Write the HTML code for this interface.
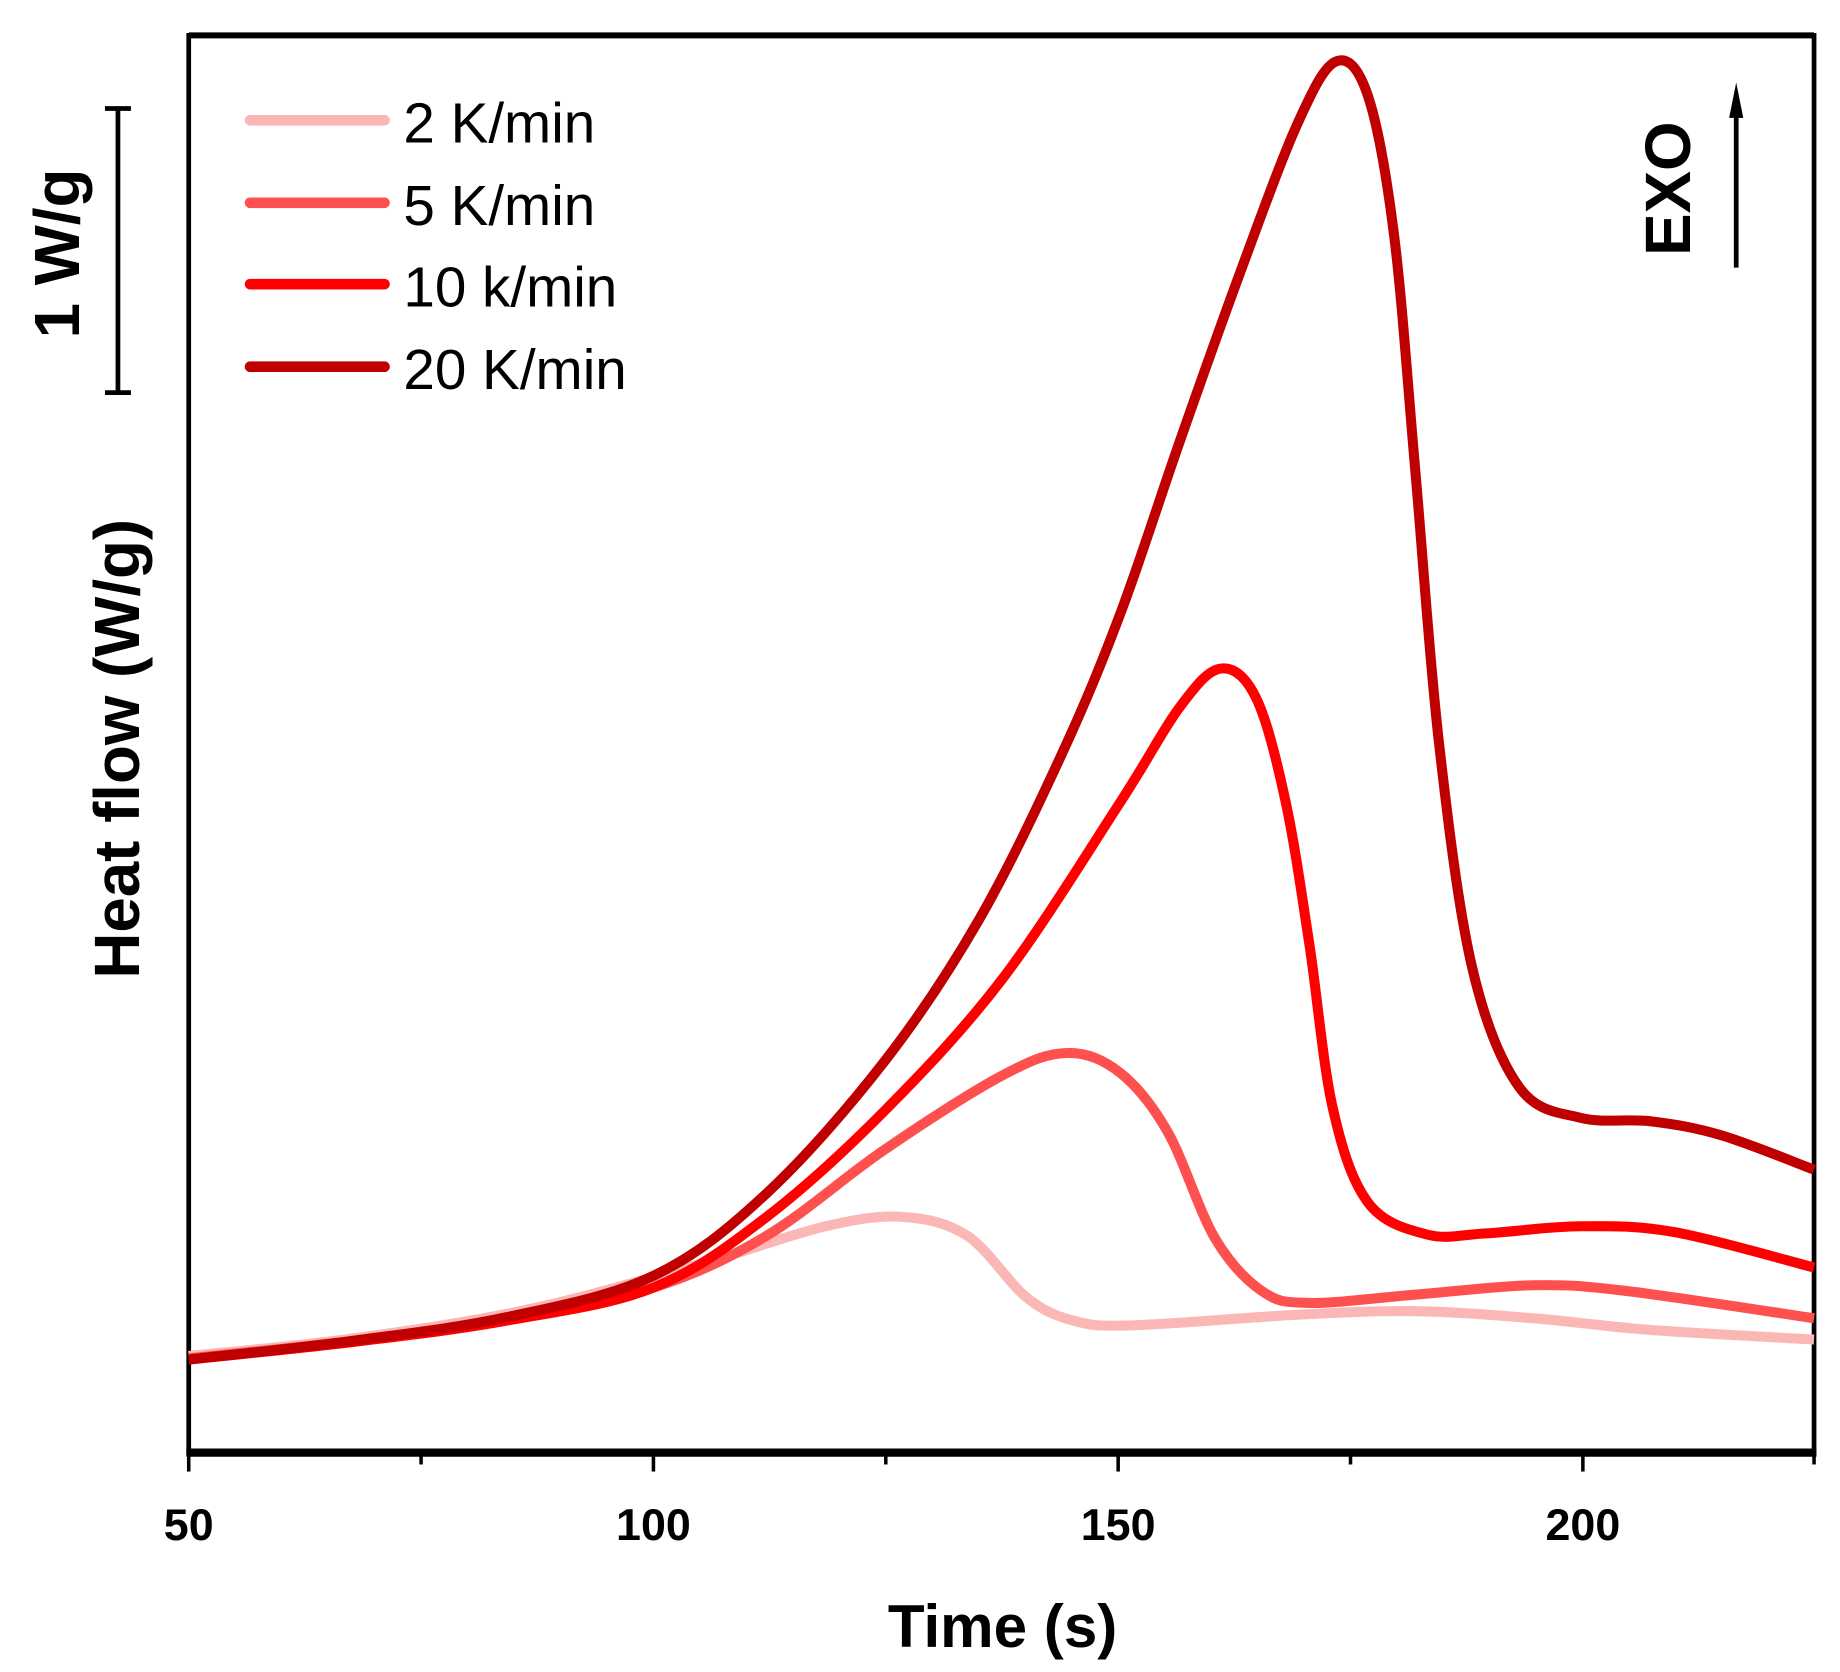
<!DOCTYPE html>
<html><head><meta charset="utf-8"><style>
html,body{margin:0;padding:0;background:#fff}
svg{display:block}
text{font-family:"Liberation Sans",Arial,sans-serif}
</style></head><body>
<svg id="s" width="1840" height="1672" viewBox="0 0 1560 1418" preserveAspectRatio="none" xmlns="http://www.w3.org/2000/svg">
<g stroke="#000" fill="none">
<line x1="160" y1="30" x2="1538" y2="30" stroke-width="5"/>
<line x1="160" y1="28" x2="160" y2="1234" stroke-width="4"/>
<line x1="1538" y1="28" x2="1538" y2="1234" stroke-width="4"/>
<line x1="158" y1="1232" x2="1540" y2="1232" stroke-width="7"/>
<g stroke-width="3">
<line x1="160" y1="1232" x2="160" y2="1248"/><line x1="554" y1="1232" x2="554" y2="1248"/>
<line x1="948" y1="1232" x2="948" y2="1248"/><line x1="1342" y1="1232" x2="1342" y2="1248"/>
<line x1="357" y1="1232" x2="357" y2="1242"/><line x1="751" y1="1232" x2="751" y2="1242"/>
<line x1="1145" y1="1232" x2="1145" y2="1242"/><line x1="1538" y1="1232" x2="1538" y2="1242"/>
</g>
<line x1="100" y1="92" x2="100" y2="333" stroke-width="4"/>
<line x1="89" y1="92" x2="111" y2="92" stroke-width="4"/>
<line x1="89" y1="333" x2="111" y2="333" stroke-width="4"/>
<line x1="1472" y1="227" x2="1472" y2="90" stroke-width="4"/>
</g>
<polygon points="1472,70 1466,100 1478,100" fill="#000"/>
<g font-weight="bold" font-size="38" text-anchor="middle">
<text x="160" y="1306">50</text><text x="554" y="1306">100</text>
<text x="948" y="1306">150</text><text x="1342" y="1306">200</text>
</g>
<text x="850" y="1397" font-size="51" font-weight="bold" text-anchor="middle">Time (s)</text>
<text transform="translate(118,635) rotate(-90)" font-size="54" font-weight="bold" text-anchor="middle">Heat flow (W/g)</text>
<text transform="translate(67,215) rotate(-90)" font-size="54" font-weight="bold" text-anchor="middle">1 W/g</text>
<text transform="translate(1433,160) rotate(-90)" font-size="54" font-weight="bold" text-anchor="middle">EXO</text>
<g stroke-width="9" stroke-linecap="round">
<line x1="212" y1="102" x2="326" y2="102" stroke="#FBB6B6"/>
<line x1="212" y1="172" x2="326" y2="172" stroke="#FF5050"/>
<line x1="212" y1="241" x2="326" y2="241" stroke="#FF0000"/>
<line x1="212" y1="311" x2="326" y2="311" stroke="#C00000"/>
</g>
<g font-size="48">
<text x="342" y="121">2 K/min</text><text x="342" y="191">5 K/min</text>
<text x="342" y="260">10 k/min</text><text x="342" y="330">20 K/min</text>
</g>
<g id="curves" fill="none" stroke-width="8.5" stroke-linejoin="round"></g>
</svg>
<script>
var data=[
["#FBB6B6",[[160,1150],[300,1135],[450,1110],[600,1070],[700,1040],[765,1032],[820,1048],[870,1100],[910,1120],[960,1124],[1100,1115],[1200,1112],[1300,1118],[1400,1128],[1538,1136]]],
["#FF5050",[[160,1152],[300,1137],[430,1118],[554,1092],[650,1048],[750,975],[850,912],[905,893],[950,910],[990,960],[1030,1050],[1070,1095],[1110,1105],[1200,1098],[1300,1090],[1380,1095],[1538,1118]]],
["#FF0000",[[160,1153],[300,1138],[430,1120],[554,1092],[650,1032],[750,942],[850,830],[950,680],[1000,600],[1035,567],[1065,592],[1090,680],[1110,800],[1130,940],[1160,1020],[1210,1047],[1260,1046],[1340,1040],[1420,1045],[1538,1075]]],
["#C00000",[[160,1153],[300,1137],[430,1117],[554,1082],[650,1012],[750,900],[830,780],[900,640],[950,520],[1000,375],[1050,235],[1100,105],[1133,52],[1160,82],[1182,200],[1200,400],[1220,630],[1248,820],[1288,922],[1340,948],[1400,951],[1460,963],[1538,992]]]
];
var g=document.getElementById('curves');
data.forEach(function(d){
 var p=d[1],s="M"+p[0][0]+","+p[0][1];
 for(var i=0;i<p.length-1;i++){
  var p0=p[Math.max(i-1,0)],p1=p[i],p2=p[i+1],p3=p[Math.min(i+2,p.length-1)];
  var c1=[p1[0]+(p2[0]-p0[0])/6,p1[1]+(p2[1]-p0[1])/6],c2=[p2[0]-(p3[0]-p1[0])/6,p2[1]-(p3[1]-p1[1])/6];
  s+="C"+c1+" "+c2+" "+p2;
 }
 var e=document.createElementNS("http://www.w3.org/2000/svg","path");
 e.setAttribute("d",s);e.setAttribute("stroke",d[0]);g.appendChild(e);
});
</script>
</body></html>
